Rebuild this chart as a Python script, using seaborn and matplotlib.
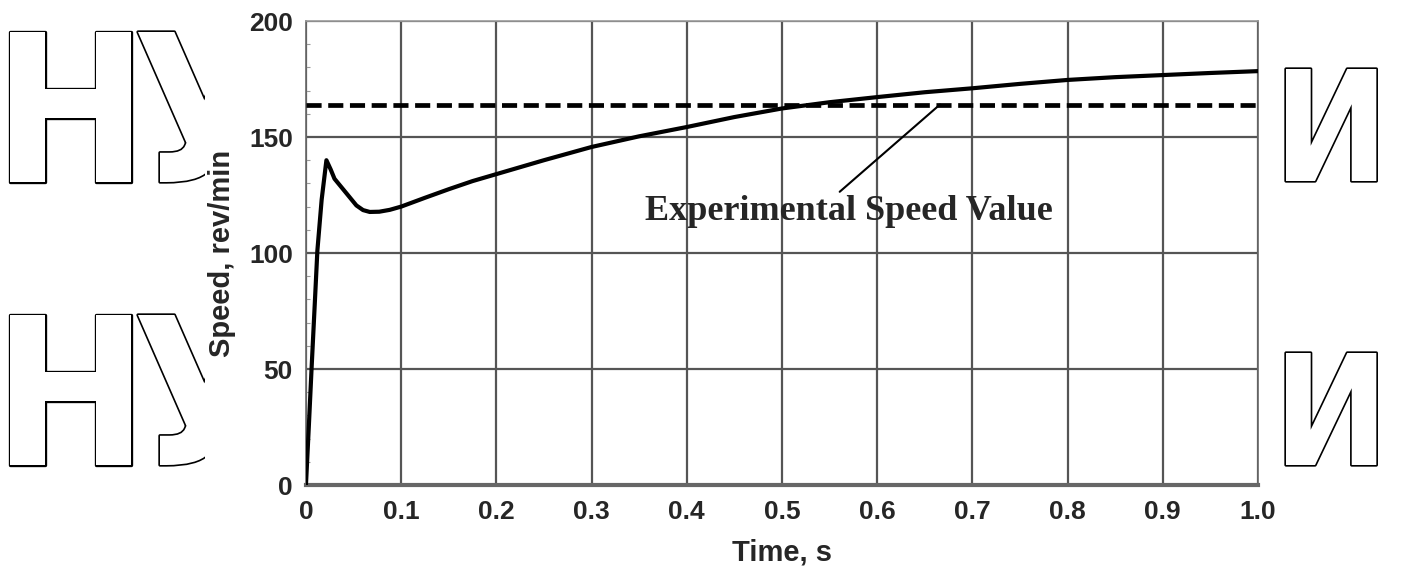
import matplotlib
matplotlib.use("Agg")
import matplotlib.pyplot as plt
import matplotlib.patheffects as pe
from matplotlib.textpath import TextPath
from matplotlib.font_manager import FontProperties
from matplotlib.transforms import Bbox, TransformedBbox
from matplotlib.ticker import MultipleLocator
import seaborn as sns
import pandas as pd

# ---- data ----
time_s = [0, 0.003, 0.006, 0.0095, 0.012, 0.0165, 0.0215, 0.026, 0.03, 0.036, 0.043,
          0.053, 0.06, 0.067, 0.077, 0.088, 0.1, 0.125, 0.15, 0.175, 0.2, 0.25, 0.3,
          0.35, 0.4, 0.45, 0.5, 0.55, 0.6, 0.65, 0.7, 0.75, 0.8, 0.85, 0.9, 0.95, 1.0]
speed = [0, 25, 51, 80, 101, 123, 140, 136, 132, 129, 125.5,
         120.5, 118.5, 117.7, 117.8, 118.6, 120, 123.8, 127.5, 131, 134, 140, 145.7,
         150.3, 154.3, 158.6, 162.3, 165, 167.2, 169.3, 171, 172.9, 174.6, 175.8, 176.7, 177.6, 178.4]
experimental_speed = 164
x_ticks = [0, 0.1, 0.2, 0.3, 0.4, 0.5, 0.6, 0.7, 0.8, 0.9, 1.0]
x_tick_labels = ["0", "0.1", "0.2", "0.3", "0.4", "0.5", "0.6", "0.7", "0.8", "0.9", "1.0"]
y_ticks = [0, 50, 100, 150, 200]
annotation_text = "Experimental Speed Value"
annotation_pos = (0.5704, 114.2)
annotation_target = (0.666, experimental_speed)

df = pd.DataFrame({"Time": time_s, "Speed": speed})

sns.set_theme(style="white")
plt.rcParams['font.family'] = ['Liberation Sans', 'DejaVu Sans']

W, H, DPI = 1406, 571, 100
fig = plt.figure(figsize=(W / DPI, H / DPI), dpi=DPI)
ax = fig.add_axes([0.2176, 0.1506, 0.6771, 0.8126])

sns.lineplot(data=df, x="Time", y="Speed", ax=ax, color="black", linewidth=3.0, zorder=4)
ax.axhline(experimental_speed, color="black", linestyle=(0, (3.2, 1.4)), linewidth=3.4, zorder=3)

ax.set_xlim(0, 1.0)
ax.set_ylim(0, 200)
ax.set_xticks(x_ticks)
ax.set_xticklabels(x_tick_labels)
ax.set_yticks(y_ticks)
ax.yaxis.set_minor_locator(MultipleLocator(10))
ax.grid(True, which="major", color="#555555", linewidth=1.6, zorder=1)
ax.set_axisbelow(True)
ax.tick_params(which="major", length=0, labelsize=19)
ax.tick_params(axis="x", which="major", pad=11)
ax.tick_params(axis="y", which="major", pad=9.5)
ax.tick_params(axis="y", which="minor", direction="in", length=3, width=0.8, color="#999999", left=True)
for lab in ax.get_xticklabels() + ax.get_yticklabels():
    lab.set_fontweight("bold")
ax.set_xlabel("Time, s", fontsize=21, fontweight="bold", labelpad=10)
ax.set_ylabel("Speed, rev/min", fontsize=21, fontweight="bold", labelpad=9)

for side in ["left", "right"]:
    ax.spines[side].set_color("#666666")
    ax.spines[side].set_linewidth(1.2)
ax.spines["top"].set_color("#9a9a9a")
ax.spines["top"].set_linewidth(1.2)
ax.spines["bottom"].set_color("#666666")
ax.spines["bottom"].set_linewidth(3)

ax.annotate(annotation_text, xy=annotation_target, xytext=annotation_pos,
            ha="center", va="baseline", fontsize=26, fontweight="bold",
            family=["Liberation Serif", "DejaVu Serif"],
            arrowprops=dict(arrowstyle="-", color="black", linewidth=1.5,
                            shrinkA=0, shrinkB=0, relpos=(0.468, 1.0)),
            zorder=5)

# ---- outlined watermark letters (positioned by their ink box in pixels) ----
fp = FontProperties(family=["DejaVu Sans"], weight="bold", stretch="condensed")
outline = [pe.Stroke(linewidth=2.4, foreground="black"), pe.Normal()]
cap_units = TextPath((0, 0), "Н", size=100, prop=fp).get_extents().y1


def watermark(s, left_px, bottom_px, height_px, clip_right_px=None):
    fs = 100 * height_px / (cap_units * DPI / 72)
    ext = TextPath((0, 0), s, size=100, prop=fp).get_extents()
    scale = fs / 100 * DPI / 72
    x_px = left_px - ext.x0 * scale
    t = fig.text(x_px / W, 1 - bottom_px / H, s, fontsize=fs, color="white",
                 fontproperties=fp, va="baseline", ha="left",
                 path_effects=outline, zorder=0)
    t.set_fontsize(fs)
    if clip_right_px is not None:
        t.set_clip_box(TransformedBbox(Bbox([[0, 0], [clip_right_px / W, 1]]), fig.transFigure))
        t.set_clip_on(True)


for bottom in (182, 465):
    watermark("Н", 10, bottom, 150)
    watermark("У", 138, bottom, 150, clip_right_px=205)
for bottom in (181, 465):
    watermark("И", 1286, bottom, 112)

fig.savefig("out.png", dpi=DPI)
